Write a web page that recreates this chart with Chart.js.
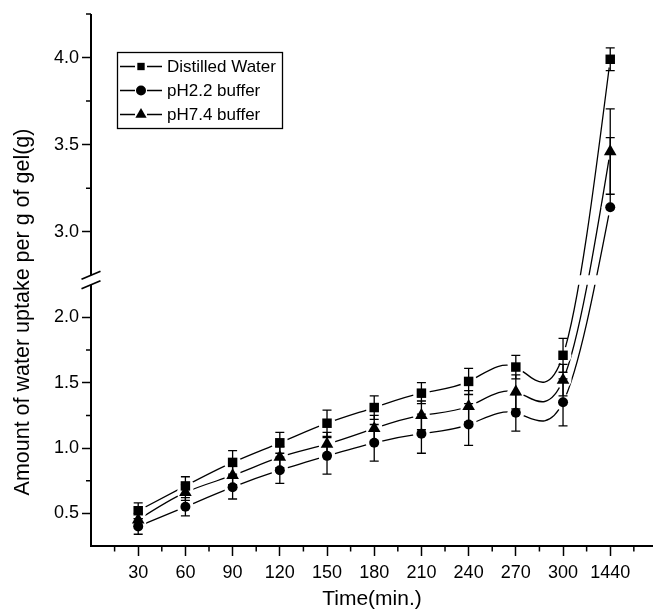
<!DOCTYPE html>
<html lang="en">
<head>
  <meta charset="UTF-8">
  <title>Water Uptake</title>
  <script src="https://cdn.jsdelivr.net/npm/chart.js"></script>
  <style>
    body { margin: 0; background: #fff; }
    canvas { display: block; }
  </style>
</head>
<body>
  <canvas id="uptakeChart" width="653" height="613"></canvas>
  <script>
    const timeLabels = ['30', '60', '90', '120', '150', '180', '210', '240', '270', '300', '1440'];

    const distilledWater = [0.52, 0.71, 0.89, 1.04, 1.19, 1.31, 1.42, 1.51, 1.62, 1.71, 3.99];
    const distilledErr   = [0.06, 0.07, 0.09, 0.08, 0.10, 0.09, 0.08, 0.10, 0.09, 0.13, 0.065];

    const ph22 = [0.40, 0.55, 0.70, 0.83, 0.94, 1.04, 1.11, 1.18, 1.27, 1.35, 3.14];
    // [down, up] where the bar is one-sided
    const ph22Err = [0.06, 0.07, 0.09, 0.10, 0.14, 0.14, 0.15, 0.16, 0.14, 0.18, [0, 0.40]];

    const ph74 = [0.45, 0.66, 0.79, 0.93, 1.03, 1.15, 1.25, 1.32, 1.43, 1.52, 3.46];
    const ph74Err = [0.05, 0.06, 0.07, 0.08, 0.09, 0.10, 0.11, 0.12, 0.13, 0.12, 0.245];

    const yTicks = [0.5, 1.0, 1.5, 2.0, 3.0, 3.5, 4.0];
    const yMinorTicks = [0.75, 1.25, 1.75, 3.25, 3.75, 4.25];

    // the y axis skips everything between these two ranges
    const lowerRange = [0.25, 2.25];
    const upperRange = [2.75, 4.25];
    const BREAK_GAP = 9.5;

    const FONT = '"Liberation Sans", Arial, sans-serif';

    class BrokenScale extends Chart.LinearScale {
      segHeight() {
        return (this.bottom - this.top - BREAK_GAP) / 2;
      }
      getPixelForValue(value) {
        const seg = this.segHeight();
        if (value <= lowerRange[1]) {
          return this.bottom - (value - lowerRange[0]) / (lowerRange[1] - lowerRange[0]) * seg;
        }
        if (value >= upperRange[0]) {
          return this.top + seg - (value - upperRange[0]) / (upperRange[1] - upperRange[0]) * seg;
        }
        return this.bottom - seg - (value - lowerRange[1]) / (upperRange[0] - lowerRange[1]) * BREAK_GAP;
      }
      getValueForPixel(pixel) {
        const seg = this.segHeight();
        if (pixel >= this.bottom - seg) {
          return lowerRange[0] + (this.bottom - pixel) / seg * (lowerRange[1] - lowerRange[0]);
        }
        if (pixel <= this.top + seg) {
          return upperRange[0] + (this.top + seg - pixel) / seg * (upperRange[1] - upperRange[0]);
        }
        return lowerRange[1] + (this.bottom - seg - pixel) / BREAK_GAP * (upperRange[0] - lowerRange[1]);
      }
    }
    BrokenScale.id = 'broken';
    Chart.register(BrokenScale);

    const toPoints = values => values.map((v, i) => ({ x: i, y: v }));

    const lineSet = (label, values) => ({
      label,
      data: toPoints(values),
      borderColor: '#000',
      borderWidth: 1.3,
      pointRadius: 0,
      tension: 0.4, // non-zero so the line is drawn with bezier segments
      fill: false,
      order: 2
    });

    const markerSet = (label, values, errors, style, radius, legendRadius) => ({
      label,
      data: toPoints(values),
      showLine: false,
      pointStyle: style,
      pointRadius: radius,
      pointBackgroundColor: '#000',
      pointBorderColor: '#000',
      pointBorderWidth: 0,
      order: 1,
      isMarker: true,
      errors,
      legendRadius
    });

    function drawMarker(ctx, style, r, x, y) {
      ctx.beginPath();
      if (style === 'rect') {
        const s = r * Math.SQRT1_2;
        ctx.rect(x - s, y - s, 2 * s, 2 * s);
      } else if (style === 'triangle') {
        ctx.moveTo(x, y - r);
        ctx.lineTo(x + r * Math.sin(Math.PI / 3), y + r / 2);
        ctx.lineTo(x - r * Math.sin(Math.PI / 3), y + r / 2);
        ctx.closePath();
      } else {
        ctx.arc(x, y, r, 0, Math.PI * 2);
      }
      ctx.fill();
    }

    // natural cubic spline through the points (pixel space), written as bezier control points
    function setSplineControlPoints(points) {
      const n = points.length;
      const px = points.map(p => p.x);
      const py = points.map(p => p.y);
      const h = [];
      for (let i = 0; i < n - 1; i++) h.push(px[i + 1] - px[i]);

      const M = new Array(n).fill(0);
      if (n > 2) {
        const a = [], b = [], c = [], d = [];
        for (let i = 1; i < n - 1; i++) {
          a.push(h[i - 1]);
          b.push(2 * (h[i - 1] + h[i]));
          c.push(h[i]);
          d.push(6 * ((py[i + 1] - py[i]) / h[i] - (py[i] - py[i - 1]) / h[i - 1]));
        }
        const m = b.length;
        for (let i = 1; i < m; i++) {
          const w = a[i] / b[i - 1];
          b[i] -= w * c[i - 1];
          d[i] -= w * d[i - 1];
        }
        const sol = new Array(m);
        sol[m - 1] = d[m - 1] / b[m - 1];
        for (let i = m - 2; i >= 0; i--) sol[i] = (d[i] - c[i] * sol[i + 1]) / b[i];
        for (let i = 0; i < m; i++) M[i + 1] = sol[i];
      }

      const slope = i => i < n - 1
        ? (py[i + 1] - py[i]) / h[i] - h[i] * (2 * M[i] + M[i + 1]) / 6
        : (py[i] - py[i - 1]) / h[i - 1] + h[i - 1] * (M[i - 1] + 2 * M[i]) / 6;

      points.forEach((p, i) => {
        const s = slope(i);
        if (i > 0) {
          p.cp1x = p.x - h[i - 1] / 3;
          p.cp1y = p.y - s * h[i - 1] / 3;
        }
        if (i < n - 1) {
          p.cp2x = p.x + h[i] / 3;
          p.cp2y = p.y + s * h[i] / 3;
        }
      });
    }

    const splineLines = {
      id: 'splineLines',
      beforeDatasetDraw(chart, args) {
        if (chart.data.datasets[args.index].isMarker) return;
        setSplineControlPoints(args.meta.data);
        args.meta.dataset._pointsUpdated = true;
      }
    };

    // white gaps around symbols + error bars, drawn just before the symbols
    const markerPrep = {
      id: 'markerPrep',
      beforeDatasetsDraw() {
        this.done = false;
      },
      beforeDatasetDraw(chart, args) {
        const ds = chart.data.datasets[args.index];
        if (!ds.isMarker || this.done) return;
        this.done = true;
        const ctx = chart.ctx;
        const ys = chart.scales.y;
        ctx.save();
        ctx.fillStyle = '#fff';
        chart.data.datasets.forEach((d, i) => {
          if (!d.isMarker) return;
          chart.getDatasetMeta(i).data.forEach(pt => {
            ctx.beginPath();
            ctx.arc(pt.x, pt.y, 8.5, 0, Math.PI * 2);
            ctx.fill();
          });
        });
        ctx.strokeStyle = '#000';
        ctx.lineWidth = 1.3;
        chart.data.datasets.forEach((d, i) => {
          if (!d.isMarker) return;
          chart.getDatasetMeta(i).data.forEach((pt, j) => {
            const e = d.errors[j];
            const down = Array.isArray(e) ? e[0] : e;
            const up = Array.isArray(e) ? e[1] : e;
            const v = d.data[j].y;
            const yTop = ys.getPixelForValue(v + up);
            const yBot = ys.getPixelForValue(v - down);
            ctx.beginPath();
            ctx.moveTo(pt.x, yTop);
            ctx.lineTo(pt.x, yBot);
            if (up > 0) {
              ctx.moveTo(pt.x - 4.5, yTop);
              ctx.lineTo(pt.x + 4.5, yTop);
            }
            if (down > 0) {
              ctx.moveTo(pt.x - 4.5, yBot);
              ctx.lineTo(pt.x + 4.5, yBot);
            }
            ctx.stroke();
          });
        });
        ctx.restore();
      },
      afterDatasetsDraw(chart) {
        // blank the curves where they cross the axis break
        const { ctx, chartArea } = chart;
        const ys = chart.scales.y;
        const yHi = ys.getPixelForValue(upperRange[0]);
        const yLo = ys.getPixelForValue(lowerRange[1]);
        ctx.save();
        ctx.fillStyle = '#fff';
        ctx.fillRect(chartArea.left + 2, yHi, chartArea.right - chartArea.left, yLo - yHi);
        ctx.restore();
      }
    };

    const axisDecor = {
      id: 'axisDecor',
      afterDraw(chart) {
        const { ctx, chartArea } = chart;
        const xs = chart.scales.x;
        const ys = chart.scales.y;
        const left = chartArea.left;
        const bottom = chartArea.bottom;
        ctx.save();
        ctx.strokeStyle = '#000';

        // y axis in two pieces
        const yHi = ys.getPixelForValue(upperRange[0]);
        const yLo = ys.getPixelForValue(lowerRange[1]);
        ctx.lineWidth = 2;
        ctx.beginPath();
        ctx.moveTo(left, bottom);
        ctx.lineTo(left, yLo);
        ctx.moveTo(left, yHi);
        ctx.lineTo(left, chartArea.top);
        ctx.stroke();

        // break marks
        ctx.lineWidth = 1.8;
        ctx.beginPath();
        [yHi, yLo].forEach(y => {
          ctx.moveTo(left - 9.5, y + 4);
          ctx.lineTo(left + 9.5, y - 4);
        });
        ctx.stroke();

        // minor ticks
        ctx.lineWidth = 1.5;
        ctx.beginPath();
        yMinorTicks.forEach(v => {
          const y = ys.getPixelForValue(v);
          ctx.moveTo(left - 5, y);
          ctx.lineTo(left, y);
        });
        for (let i = -0.5; i < timeLabels.length; i += 1) {
          const x = xs.getPixelForValue(i);
          ctx.moveTo(x, bottom);
          ctx.lineTo(x, bottom + 5.5);
        }
        ctx.stroke();

        // y axis title
        ctx.fillStyle = '#000';
        ctx.font = '21.5px ' + FONT;
        ctx.textAlign = 'center';
        ctx.textBaseline = 'middle';
        ctx.translate(23, 312);
        ctx.rotate(-Math.PI / 2);
        ctx.fillText('Amount of water uptake per g of gel(g)', 0, 0);
        ctx.restore();

        // legend
        ctx.save();
        ctx.strokeStyle = '#000';
        ctx.lineWidth = 1.3;
        ctx.strokeRect(117.5, 52.5, 165, 76);
        ctx.fillStyle = '#000';
        ctx.font = '17px ' + FONT;
        ctx.textAlign = 'left';
        ctx.textBaseline = 'middle';
        let row = 66.5;
        chart.data.datasets.filter(d => d.isMarker).forEach(d => {
          ctx.beginPath();
          ctx.moveTo(120, row);
          ctx.lineTo(135, row);
          ctx.moveTo(147, row);
          ctx.lineTo(162, row);
          ctx.stroke();
          drawMarker(ctx, d.pointStyle, d.legendRadius, 141, row);
          ctx.fillText(d.label, 167, row + 0.5);
          row += 24;
        });
        ctx.restore();
      }
    };

    const ctx = document.getElementById('uptakeChart').getContext('2d');
    new Chart(ctx, {
      type: 'line',
      data: {
        datasets: [
          lineSet('Distilled Water', distilledWater),
          lineSet('pH2.2 buffer', ph22),
          lineSet('pH7.4 buffer', ph74),
          markerSet('Distilled Water', distilledWater, distilledErr, 'rect', 6.7, 5.2),
          markerSet('pH2.2 buffer', ph22, ph22Err, 'circle', 5, 5),
          markerSet('pH7.4 buffer', ph74, ph74Err, 'triangle', 7.3, 6.5)
        ]
      },
      options: {
        responsive: false,
        animation: false,
        events: [],
        layout: {
          autoPadding: false,
          padding: { top: 14, right: 0, bottom: 0, left: 0 }
        },
        plugins: {
          legend: { display: false },
          tooltip: { enabled: false }
        },
        scales: {
          x: {
            type: 'linear',
            min: -1,
            max: 10.906,
            afterBuildTicks: axis => {
              axis.ticks = timeLabels.map((_, i) => ({ value: i }));
            },
            afterFit: axis => { axis.height = 67; },
            ticks: {
              autoSkip: false,
              maxRotation: 0,
              padding: 6,
              color: '#000',
              font: { family: FONT, size: 18 },
              callback: value => timeLabels[value] ?? ''
            },
            grid: {
              drawOnChartArea: false,
              tickLength: 10,
              tickWidth: 1.5,
              tickColor: '#000'
            },
            border: { display: true, color: '#000', width: 2 },
            title: {
              display: true,
              text: 'Time(min.)',
              color: '#000',
              font: { family: FONT, size: 21 },
              padding: { top: 0, bottom: 1 }
            }
          },
          y: {
            type: 'broken',
            position: 'left',
            min: lowerRange[0],
            max: upperRange[1],
            afterBuildTicks: axis => {
              axis.ticks = yTicks.map(v => ({ value: v }));
            },
            afterFit: axis => { axis.width = 91; },
            ticks: {
              autoSkip: false,
              padding: 3,
              color: '#000',
              font: { family: FONT, size: 18 },
              callback: value => Number(value).toFixed(1)
            },
            grid: {
              drawOnChartArea: false,
              tickLength: 9,
              tickWidth: 1.5,
              tickColor: '#000'
            },
            border: { display: false }
          }
        }
      },
      plugins: [splineLines, markerPrep, axisDecor]
    });
  </script>
</body>
</html>
